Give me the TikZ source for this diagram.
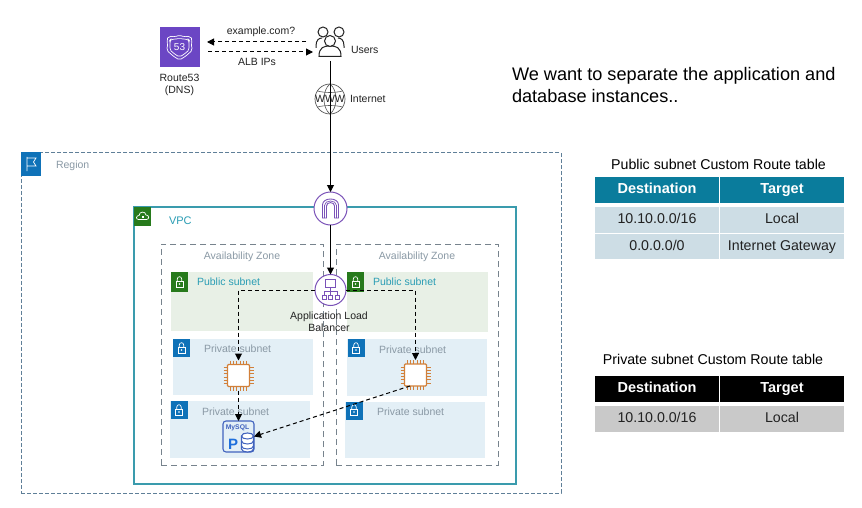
\documentclass[tikz,border=0pt]{standalone}
\usepackage{fontspec}
\setmainfont{Liberation Sans}
\usetikzlibrary{arrows.meta}
\definecolor{regionc}{HTML}{5F7F98}
\definecolor{vpcc}{HTML}{3A9BAD}
\definecolor{azc}{HTML}{77838D}
\definecolor{pubc}{HTML}{E8F0E6}
\definecolor{privc}{HTML}{E3EFF6}
\definecolor{greenc}{HTML}{277A1C}
\definecolor{bluec}{HTML}{0F72B8}
\definecolor{graytxt}{HTML}{8A99A5}
\definecolor{tealtxt}{HTML}{2A9DB4}
\definecolor{purplec}{HTML}{7A52B8}
\definecolor{r53c}{HTML}{6B46C4}
\definecolor{orangec}{HTML}{D2803A}
\definecolor{dbc}{HTML}{4163BE}
\definecolor{pblue}{HTML}{1F6FDC}
\definecolor{headc}{HTML}{0A7C9C}
\definecolor{rowc}{HTML}{CDDDE5}
\definecolor{grayrow}{HTML}{C9C9C9}
\definecolor{inkc}{HTML}{222222}
\newcommand{\fsz}[1]{\fontsize{#1}{#1}\selectfont}
\tikzset{
  panel/.style={inner sep=0pt,outer sep=0pt,draw=none,anchor=north west},
  badge/.style={panel,minimum width=17pt,minimum height=18pt},
  lbl/.style={inner sep=0pt,outer sep=0pt,font=\fsz{10.5},text=graytxt},
  txt/.style={inner sep=0pt,outer sep=0pt,font=\fsz{10.5},text=inkc,align=center},
  conn/.style={draw=black,line width=1pt,-{Triangle[length=7pt,width=7pt]}},
  dconn/.style={draw=black,line width=1pt,dash pattern=on 4pt off 3pt,-{Triangle[length=7pt,width=7pt]}},
  cell/.style={inner sep=0pt,outer sep=0pt,font=\fsz{14.2},text=inkc,minimum height=26pt,text height=10.5pt,text depth=3pt},
  hcell/.style={cell,font=\fsz{14.5}\bfseries,text=white},
  ttl/.style={inner sep=0pt,outer sep=0pt,font=\fsz{14.2},text=black},
  icon/.style={inner sep=0pt,outer sep=0pt,minimum width=#1,minimum height=#1},
  whiteline/.style={draw=white,line width=.7pt},
}
\newcommand{\lockmark}[2]{%
  \begin{scope}[shift={(#1,#2)}]
    \draw[whiteline,fill=none] (-3.5,-1) rectangle (3.5,5);
    \draw[whiteline] (-2.2,-1) -- (-2.2,-3) .. controls (-2.2,-6) and (2.2,-6) .. (2.2,-3) -- (2.2,-1);
    \fill[white] (0,2) circle[radius=.9];
  \end{scope}}
\newcommand{\chip}[2]{%
  \begin{scope}[shift={(#1,#2)}]
    \draw[orangec,line width=1.2pt,fill=white,rounded corners=1pt] (-11,-11) rectangle (11,11);
    \foreach \p in {-8,-4.8,-1.6,1.6,4.8,8}{
      \draw[orangec,line width=1pt] (\p,-15) -- (\p,-11) (\p,11) -- (\p,15) (-15,\p) -- (-11,\p) (11,\p) -- (15,\p);
    }
  \end{scope}}
\begin{document}
\begin{tikzpicture}[x=1pt,y=-1pt]
\useasboundingbox (0,0) rectangle (862,508);
\fill[white] (0,0) rectangle (862,508);

% Region
\node[panel,draw=regionc,line width=1pt,dash pattern=on 4pt off 2pt,minimum width=540pt,minimum height=340pt] (region) at (21,153) {};
\node[panel,fill=bluec,minimum width=20pt,minimum height=24pt] (regionbadge) at (21,152) {};
\draw[whiteline] (27,157) -- (27,171) (27,158) -- (36,158) -- (33.5,162) -- (36,166) -- (27,166);
\node[lbl,anchor=west] (regiontxt) at (56,165.5) {Region};

% VPC
\node[panel,draw=vpcc,line width=1.4pt,minimum width=382pt,minimum height=277pt] (vpc) at (134,207) {};
\node[panel,fill=greenc,minimum width=17pt,minimum height=19pt] (vpcbadge) at (134,207) {};
\draw[whiteline] (138.5,219.5) .. controls (135.5,219.5) and (136,215.5) .. (139,215.5) .. controls (139.5,211) and (145.5,211) .. (146,215) .. controls (149.5,215) and (149.5,219.5) .. (146.5,219.5) -- cycle;
\fill[white] (141.5,215.7) rectangle (143.7,218);
\node[txt,anchor=west,text=tealtxt,font=\fsz{11}] (vpctxt) at (169,221) {VPC};

% Availability zones
\node[panel,draw=azc,line width=1pt,dash pattern=on 6pt off 4pt,minimum width=162pt,minimum height=221pt] (az1) at (161,244) {};
\node[panel,draw=azc,line width=1pt,dash pattern=on 6pt off 4pt,minimum width=162pt,minimum height=221pt] (az2) at (336,244) {};
\node[lbl] (az1txt) at (242,257) {Availability Zone};
\node[lbl] (az2txt) at (417,257) {Availability Zone};

% Subnets
\node[panel,fill=pubc,minimum width=142pt,minimum height=59pt] (pub1) at (171,272) {};
\node[panel,fill=pubc,minimum width=141pt,minimum height=60pt] (pub2) at (347,272) {};
\node[panel,fill=privc,minimum width=140pt,minimum height=56pt] (priv1) at (173,339) {};
\node[panel,fill=privc,minimum width=140pt,minimum height=57pt] (priv2) at (170,401) {};
\node[panel,fill=privc,minimum width=140pt,minimum height=57pt] (priv3) at (347,339) {};
\node[panel,fill=privc,minimum width=140pt,minimum height=56pt] (priv4) at (345,402) {};

\node[badge,fill=greenc,minimum height=20pt] (b1) at (171,272) {};
\lockmark{179.5}{282}
\node[badge,fill=greenc,minimum height=20pt] (b2) at (347,272) {};
\lockmark{355.5}{282}
\node[badge,fill=bluec] (b3) at (173,339) {};
\lockmark{181.5}{348}
\node[badge,fill=bluec] (b4) at (171,401) {};
\lockmark{179}{410}
\node[badge,fill=bluec] (b5) at (348,339) {};
\lockmark{356}{348}
\node[badge,fill=bluec] (b6) at (346,402) {};
\lockmark{354}{410}

\node[lbl,text=tealtxt,anchor=west] (pub1txt) at (197,282) {Public subnet};
\node[lbl,text=tealtxt,anchor=west] (pub2txt) at (373,282) {Public subnet};
\node[lbl,anchor=west] (priv1txt) at (204,349) {Private subnet};
\node[lbl,anchor=west] (priv2txt) at (202,412) {Private subnet};
\node[lbl,anchor=west] (priv3txt) at (379,349.5) {Private subnet};
\node[lbl,anchor=west] (priv4txt) at (377,412) {Private subnet};

% Route53
\node[icon=40pt,fill=r53c] (dns) at (179.5,47.5) {};
\draw[whiteline,rounded corners=2pt] (179.5,35) -- (184,37) -- (190,36) -- (192.5,40) -- (191,44) -- (192.5,50) -- (186,56) -- (179.5,60) -- (173,56) -- (166.5,50) -- (168,44) -- (166.5,40) -- (169,36) -- (175,37) -- cycle;
\draw[whiteline,rounded corners=2pt] (179.5,38) -- (184,39.5) -- (188,39) -- (189.5,41) -- (188.5,44.5) -- (189.5,49.5) -- (184.5,54) -- (179.5,57) -- (174.5,54) -- (169.5,49.5) -- (170.5,44.5) -- (169.5,41) -- (171,39) -- (175,39.5) -- cycle;
\node[inner sep=0pt,text=white,font=\fsz{10}] (dnsnum) at (179.5,47.5) {53};
\node[txt,font=\fontsize{10.5}{12.5}\selectfont] (dnstxt) at (179.5,85) {Route53\\(DNS)};

% Users
\node[icon=1pt,minimum width=30pt,minimum height=35pt] (users) at (330.5,43.5) {};
\draw[inkc,line width=1pt] (323,32) circle[radius=5];
\draw[inkc,line width=1pt] (339,32) circle[radius=5];
\draw[inkc,line width=1pt] (316,48) -- (316,46) .. controls (316,40) and (319,38) .. (322,38);
\draw[inkc,line width=1pt] (344,48) -- (344,46) .. controls (344,40) and (341,38) .. (338,38);
\draw[inkc,line width=1pt,fill=white] (319,56.5) .. controls (319,47) and (324,46) .. (330,46) .. controls (336,46) and (341,47) .. (341,56.5) -- cycle;
\draw[inkc,line width=1pt,fill=white] (330,41) circle[radius=5.5];
\node[txt,anchor=west] (userstxt) at (351,50) {Users};

% Internet globe
\node[circle,draw=inkc!75,line width=.7pt,inner sep=0pt,minimum size=30pt] (www) at (330,99) {};
\draw[inkc!75,line width=.6pt] (330,84) .. controls (322,90) and (322,108) .. (330,114);
\draw[inkc!75,line width=.6pt] (330,84) .. controls (338,90) and (338,108) .. (330,114);
\draw[inkc!75,line width=.6pt] (317.5,91) .. controls (325,93) and (335,93) .. (342.5,91);
\draw[inkc!75,line width=.6pt] (317.5,107) .. controls (325,105) and (335,105) .. (342.5,107);
\node[inner sep=0pt,font=\fsz{10.5},text=inkc] (wwwtxt) at (330,99) {WWW};
\node[txt,anchor=west] (nettxt) at (350,99) {Internet};

% DNS exchange
\coordinate (qstart) at (306,42);
\coordinate (qend) at (207,42);
\coordinate (astart) at (208,52);
\coordinate (aend) at (313,52);
\draw[dconn] (qstart) -- (qend);
\draw[dconn] (astart) -- (aend);
\node[txt] (qtxt) at (261,32) {example.com?};
\node[txt] (atxt) at (257,62) {ALB IPs};

% Workloads
\node[icon=30pt] (ec2a) at (238.5,375.5) {};
\chip{238.5}{375.5}
\node[icon=30pt] (ec2b) at (415.5,375) {};
\chip{415.5}{375}
\node[panel,anchor=center,draw=dbc,line width=1.1pt,rounded corners=3pt,minimum width=31pt,minimum height=31pt] (mysql) at (238.5,436.5) {};
\node[inner sep=0pt,font=\fsz{6.8}\bfseries,text=dbc] (mysqltxt) at (237.5,428) {MySQL};
\node[inner sep=0pt,font=\fsz{15}\bfseries,text=pblue] (ptxt) at (233,444) {P};
\draw[dbc,line width=1.1pt,fill=white] (241.5,436) -- (241.5,449) .. controls (241.5,453) and (253.5,453) .. (253.5,449) -- (253.5,436) .. controls (253.5,432) and (241.5,432) .. (241.5,436) -- cycle;
\draw[dbc,line width=1pt] (241.5,436) .. controls (241.5,440) and (253.5,440) .. (253.5,436);
\draw[dbc,line width=1pt] (241.5,441) .. controls (241.5,445) and (253.5,445) .. (253.5,441);
\draw[dbc,line width=1pt] (241.5,446) .. controls (241.5,450) and (253.5,450) .. (253.5,446);

% Gateway and load balancer
\node[circle,draw=purplec,fill=white,line width=1pt,inner sep=0pt,outer sep=0pt,minimum size=33pt] (igw) at (330.5,208.5) {};
\draw[purplec,line width=.9pt] (322.5,218) -- (322.5,205) .. controls (322.5,197) and (338.5,197) .. (338.5,205) -- (338.5,218) -- (334.5,218) -- (334.5,206) .. controls (334.5,201.5) and (326.5,201.5) .. (326.5,206) -- (326.5,218) -- cycle;
\draw[purplec,line width=.7pt] (324.5,218) -- (324.5,205.5) .. controls (324.5,199.5) and (336.5,199.5) .. (336.5,205.5) -- (336.5,218);
\node[circle,draw=purplec,fill=white,line width=1pt,inner sep=0pt,outer sep=0pt,minimum size=31pt] (alb) at (330.5,290) {};
\draw[purplec,line width=.9pt] (325.5,279.5) rectangle (335.5,287);
\draw[purplec,line width=.8pt] (330.5,287) -- (330.5,295) (324,295) -- (324,291) -- (337,291) -- (337,295);
\draw[purplec,line width=.8pt] (322,295) rectangle (326,299.5) (328.5,295) rectangle (332.5,299.5) (335,295) rectangle (339,299.5);
\node[txt,font=\fontsize{10.5}{12}\selectfont] (albtxt) at (329,322) {Application Load\\Balancer};

% Connectors
\draw[conn] (users.south) -- (igw.north);
\draw[conn] (igw.south) -- (alb.north);
\draw[dconn] (alb.west) -| (ec2a.north);
\draw[dconn] (alb.east) -| (ec2b.north);
\draw[dconn] (ec2a.south) -- (mysql.north);
\coordinate (ec2bout) at (410,386);
\draw[dconn] (ec2bout) -- (mysql.east);

% Headline
\node[inner sep=0pt,outer sep=0pt,anchor=north west,align=left,font=\fontsize{18.15}{22}\selectfont,text=black] (headline) at (512,67) {We want to separate the application and\\database instances..};

% Public table
\node[ttl] (pubttl) at (718.5,164) {Public subnet Custom Route table};
\node[hcell,fill=headc,minimum width=124pt] (pd) at (657,190) {Destination};
\node[hcell,fill=headc,minimum width=124pt] (pt) at (782,190) {Target};
\node[cell,fill=rowc,minimum width=124pt] (p1d) at (657,220) {10.10.0.0/16};
\node[cell,fill=rowc,minimum width=124pt] (p1t) at (782,220) {Local};
\node[cell,fill=rowc,minimum width=124pt,minimum height=25pt] (p2d) at (657,246.5) {0.0.0.0/0};
\node[cell,fill=rowc,minimum width=124pt,minimum height=25pt] (p2t) at (782,246.5) {Internet Gateway};

% Private table
\node[ttl] (prvttl) at (713,359) {Private subnet Custom Route table};
\node[hcell,fill=black,minimum width=124pt] (qd) at (657,388.5) {Destination};
\node[hcell,fill=black,minimum width=124pt] (qt) at (782,388.5) {Target};
\node[cell,fill=grayrow,minimum width=124pt] (q1d) at (657,418.5) {10.10.0.0/16};
\node[cell,fill=grayrow,minimum width=124pt] (q1t) at (782,418.5) {Local};
\end{tikzpicture}
\end{document}
